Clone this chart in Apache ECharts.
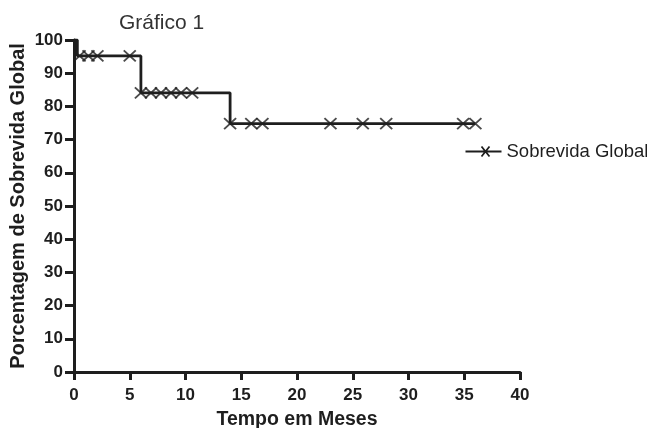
<!DOCTYPE html>
<html><head><meta charset="utf-8">
<script src="https://cdn.jsdelivr.net/npm/echarts@6/dist/echarts.min.js"></script>
<style>html,body{margin:0;padding:0;background:#fff}#c{width:647px;height:428px}</style>
</head><body><div id="c"></div>
<script>
// Kaplan-Meier step points (time in months, % survival)
const stepTimes = [0, 0.3, 6, 14, 36];
const stepValues = [100, 95.2, 84.1, 74.8, 74.8];
// censored observations
const censorTimes = [0.5, 1.3, 2.1, 5.0, 6.0, 6.9, 7.8, 8.7, 9.6, 10.6, 14.0, 15.9, 16.9, 23.0, 25.9, 28.0, 34.9, 36.0];
const censorValues = [95.2, 95.2, 95.2, 95.2, 84.1, 84.1, 84.1, 84.1, 84.1, 84.1, 74.8, 74.8, 74.8, 74.8, 74.8, 74.8, 74.8, 74.8];
const xTicks = [0, 5, 10, 15, 20, 25, 30, 35, 40];
const yTicks = [0, 10, 20, 30, 40, 50, 60, 70, 80, 90, 100];
const seriesName = 'Sobrevida Global';

const ink = '#1e1e1e';
const font = 'Liberation Sans, Arial, sans-serif';
const xPath = 'path://M0,0L10,10M10,0L0,10';
const chart = echarts.init(document.getElementById('c'));
chart.setOption({
  animation: false,
  textStyle: {fontFamily: font},
  title: {text: 'Gráfico 1', left: 114, top: 8, textStyle: {fontSize: 21, fontWeight: 'normal', color: '#333', fontFamily: font}},
  grid: {left: 74, right: 127, top: 40, bottom: 56, containLabel: false, outerBoundsMode: 'none'},
  legend: {
    left: 458, top: 137, itemWidth: 36, itemHeight: 10, itemGap: 4,
    textStyle: {fontSize: 18.5, color: ink, fontFamily: font},
    data: [{name: seriesName, icon: 'path://M0,5L36,5M16,0L24,10M24,0L16,10', itemStyle: {color: 'none', borderColor: ink, borderWidth: 1.8}}]
  },
  xAxis: {
    type: 'value', min: xTicks[0], max: xTicks[xTicks.length-1], interval: 5,
    name: 'Tempo em Meses', nameLocation: 'middle', nameGap: 38, nameMoveOverlap: false,
    nameTextStyle: {fontSize: 19.5, fontWeight: 'bold', color: ink},
    axisLine: {onZero: false, lineStyle: {color: ink, width: 3}},
    axisTick: {length: 8, lineStyle: {color: ink, width: 3}},
    axisLabel: {fontSize: 17, fontWeight: 'bold', color: ink, margin: 15},
    splitLine: {show: false}
  },
  yAxis: {
    type: 'value', min: yTicks[0], max: yTicks[yTicks.length-1], interval: 10,
    name: 'Porcentagem de Sobrevida Global', nameLocation: 'middle', nameGap: 46, nameMoveOverlap: false,
    nameTextStyle: {fontSize: 20, fontWeight: 'bold', color: ink},
    axisLine: {show: true, onZero: false, lineStyle: {color: ink, width: 3}},
    axisTick: {show: true, length: 9, lineStyle: {color: ink, width: 3}},
    axisLabel: {fontSize: 17, fontWeight: 'bold', color: ink, margin: 11},
    splitLine: {show: false}
  },
  series: [
    {name: seriesName, type: 'line', step: 'end', showSymbol: false, symbol: 'none',
     lineStyle: {color: ink, width: 2.8},
     data: stepTimes.map((t, i) => [t, stepValues[i]])},
    {name: seriesName, type: 'scatter', symbol: xPath, symbolSize: [12, 11],
     itemStyle: {color: 'none', borderColor: ink, borderWidth: 1.8},
     data: censorTimes.map((t, i) => [t, censorValues[i]])}
  ]
});
</script></body></html>
